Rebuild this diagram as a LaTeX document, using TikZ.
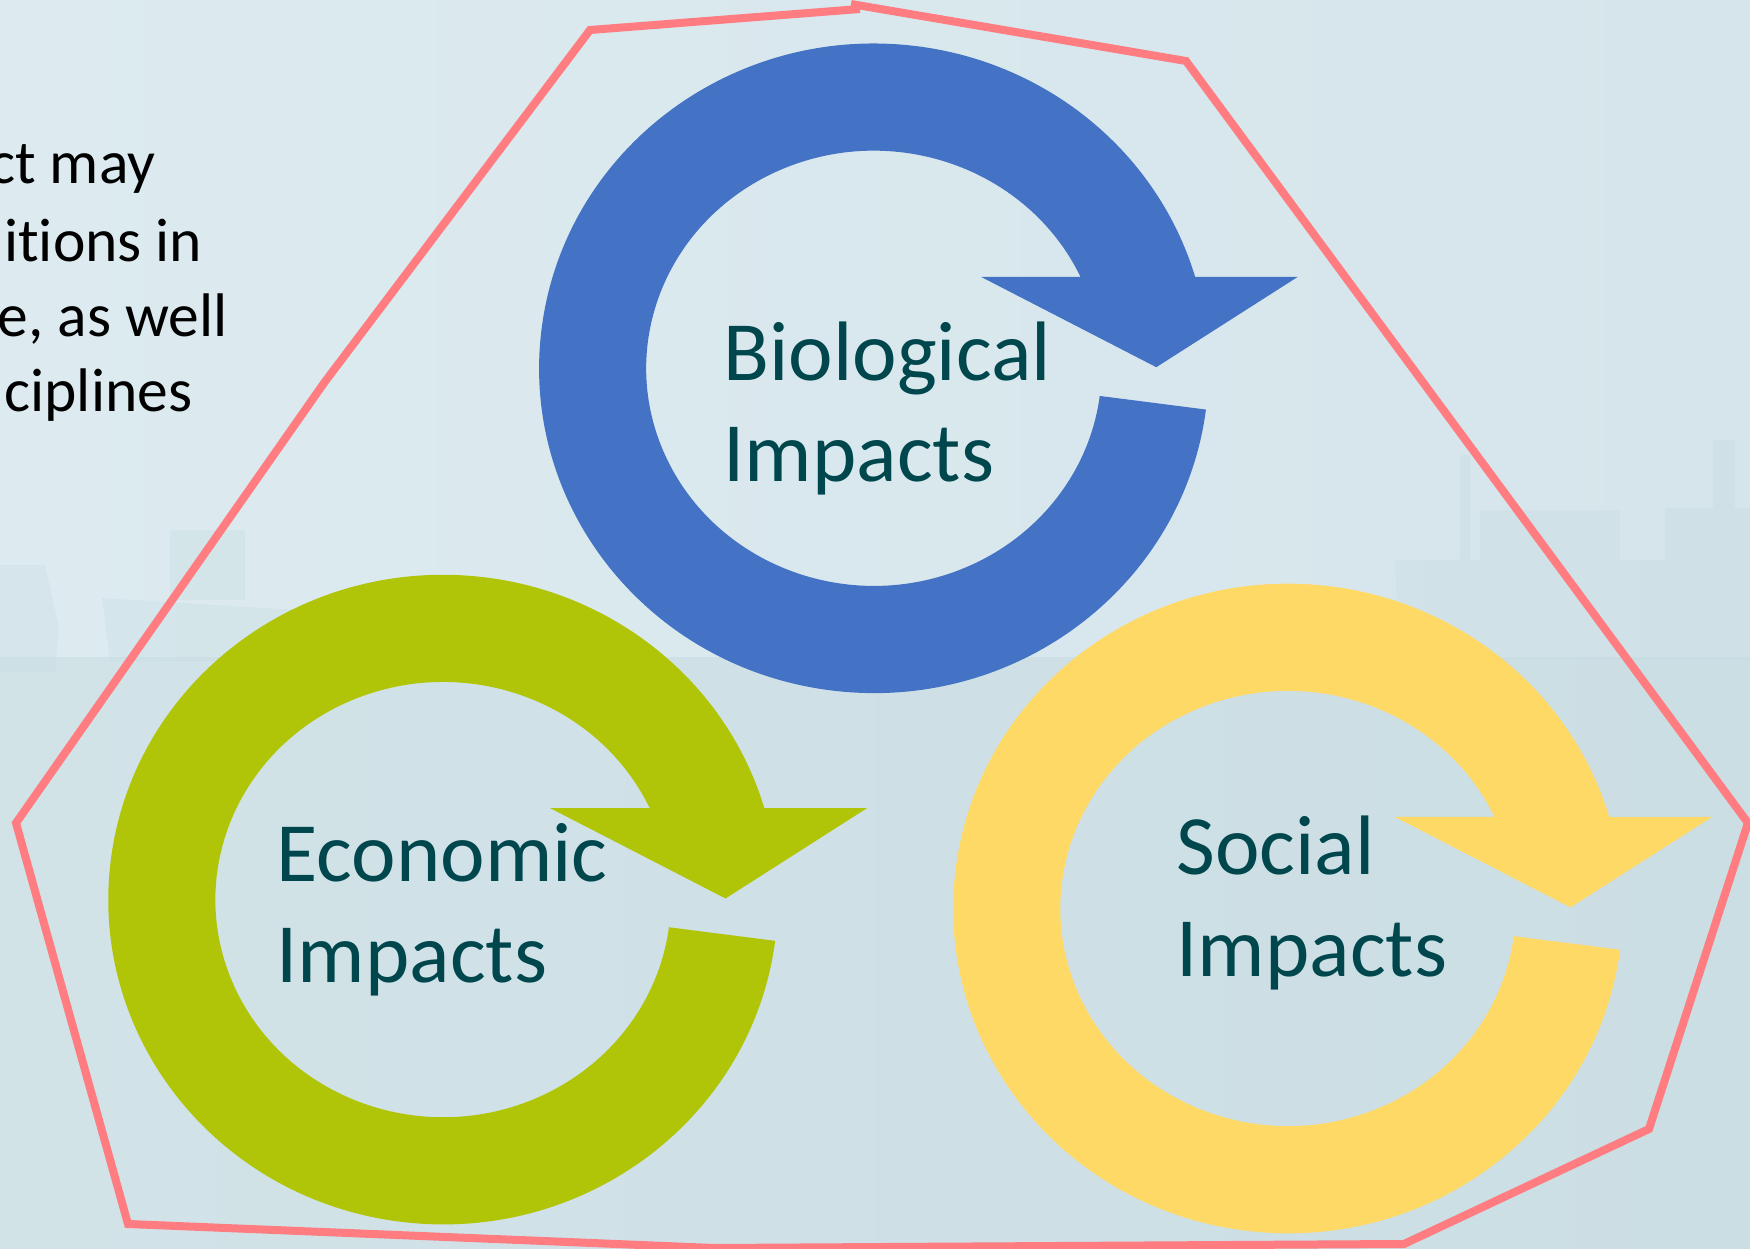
\documentclass[tikz,border=0pt]{standalone}
\usepackage{fontspec}
\setmainfont[Ligatures=NoCommon]{Carlito}
\definecolor{skyL}{RGB}{221,235,240}
\definecolor{skyR}{RGB}{213,229,235}
\definecolor{seaL}{RGB}{210,227,232}
\definecolor{seaR}{RGB}{203,222,228}
\definecolor{shipc}{RGB}{196,218,225}
\definecolor{bioblue}{RGB}{68,114,196}
\definecolor{ecogreen}{RGB}{176,196,8}
\definecolor{socyellow}{RGB}{255,217,102}
\definecolor{hexred}{RGB}{255,124,128}
\definecolor{labelteal}{RGB}{0,70,77}
\newcommand{\cycarrow}[3]{%
  \begin{scope}[shift={#2}]
    \coordinate (#1) at (0,0);
    \fill[#3] (-7.3:334.8 and 324.8)
      arc[start angle=-7.3,end angle=-343.64,x radius=334.8,y radius=324.8]
      -- (424,91.5) -- (282.4,1.1) -- (107,91.5)
      -- (24.87:227.7 and 217.6)
      arc[start angle=24.87,end angle=352.7,x radius=227.7,y radius=217.6]
      -- cycle;
  \end{scope}}
\begin{document}
\begin{tikzpicture}[x=0.01cm,y=0.01cm,
  lbl/.style={inner sep=0pt,text=labelteal,font=\fontsize{24}{29}\selectfont},
  sidetxt/.style={inner sep=0pt,text=black,font=\fontsize{17.5}{21}\selectfont},
  shipshape/.style={fill=shipc,opacity=0.3}]
\useasboundingbox (0,0) rectangle (1750,-1249);
\clip (0,0) rectangle (1750,-1249);
% background
\shade[left color=skyL,right color=skyR] (0,0) rectangle (1750,-658);
\shade[left color=seaL,right color=seaR] (0,-658) rectangle (1750,-1249);
% faint ships
\fill[shipshape] (0,-565) -- (45,-565) -- (59,-628) -- (55,-672) -- (0,-672) -- cycle;
\fill[shipshape] (102,-598) -- (296,-610) -- (296,-660) -- (110,-662) -- cycle;
\fill[shipshape] (170,-530) rectangle (245,-600);
\fill[shipshape] (1395,-560) -- (1750,-560) -- (1750,-660) -- (1400,-660) -- cycle;
\fill[shipshape] (1480,-510) rectangle (1620,-560);
\fill[shipshape] (1665,-508) rectangle (1750,-560);
\fill[shipshape] (1713,-440) rectangle (1735,-508);
\fill[shipshape] (1460,-455) rectangle (1470,-560);
% side text (cropped)
\node[sidetxt,anchor=base east] (t1) at (156,-184) {ct may};
\node[sidetxt,anchor=base east] (t2) at (203,-262) {itions in};
\node[sidetxt,anchor=base east] (t3) at (228,-337) {e, as well};
\node[sidetxt,anchor=base east] (t4) at (193,-412) {ciplines};
% red outline
\draw[hexred,line width=0.08cm,line join=miter]
  (851,-4) -- (1186,-61) -- (1748,-823) -- (1649,-1129) -- (1404,-1244)
  -- (714,-1248) -- (128,-1224) -- (16,-823) -- (324,-383) -- (590,-30) -- (860,-9);
% cycle arrows
\cycarrow{bioc}{(873.9,-368.3)}{bioblue}
\cycarrow{ecoc}{(443.1,-899.6)}{ecogreen}
\cycarrow{socc}{(1288,-908.5)}{socyellow}
% labels
\node[lbl,anchor=base west] (bio1) at (723,-381) {Biological};
\node[lbl,anchor=base west] (bio2) at (723,-482) {Impacts};
\node[lbl,anchor=base west] (eco1) at (276,-882) {Economic};
\node[lbl,anchor=base west] (eco2) at (276,-983) {Impacts};
\node[lbl,anchor=base west] (soc1) at (1176,-875) {Social};
\node[lbl,anchor=base west] (soc2) at (1176,-977) {Impacts};
\end{tikzpicture}
\end{document}
